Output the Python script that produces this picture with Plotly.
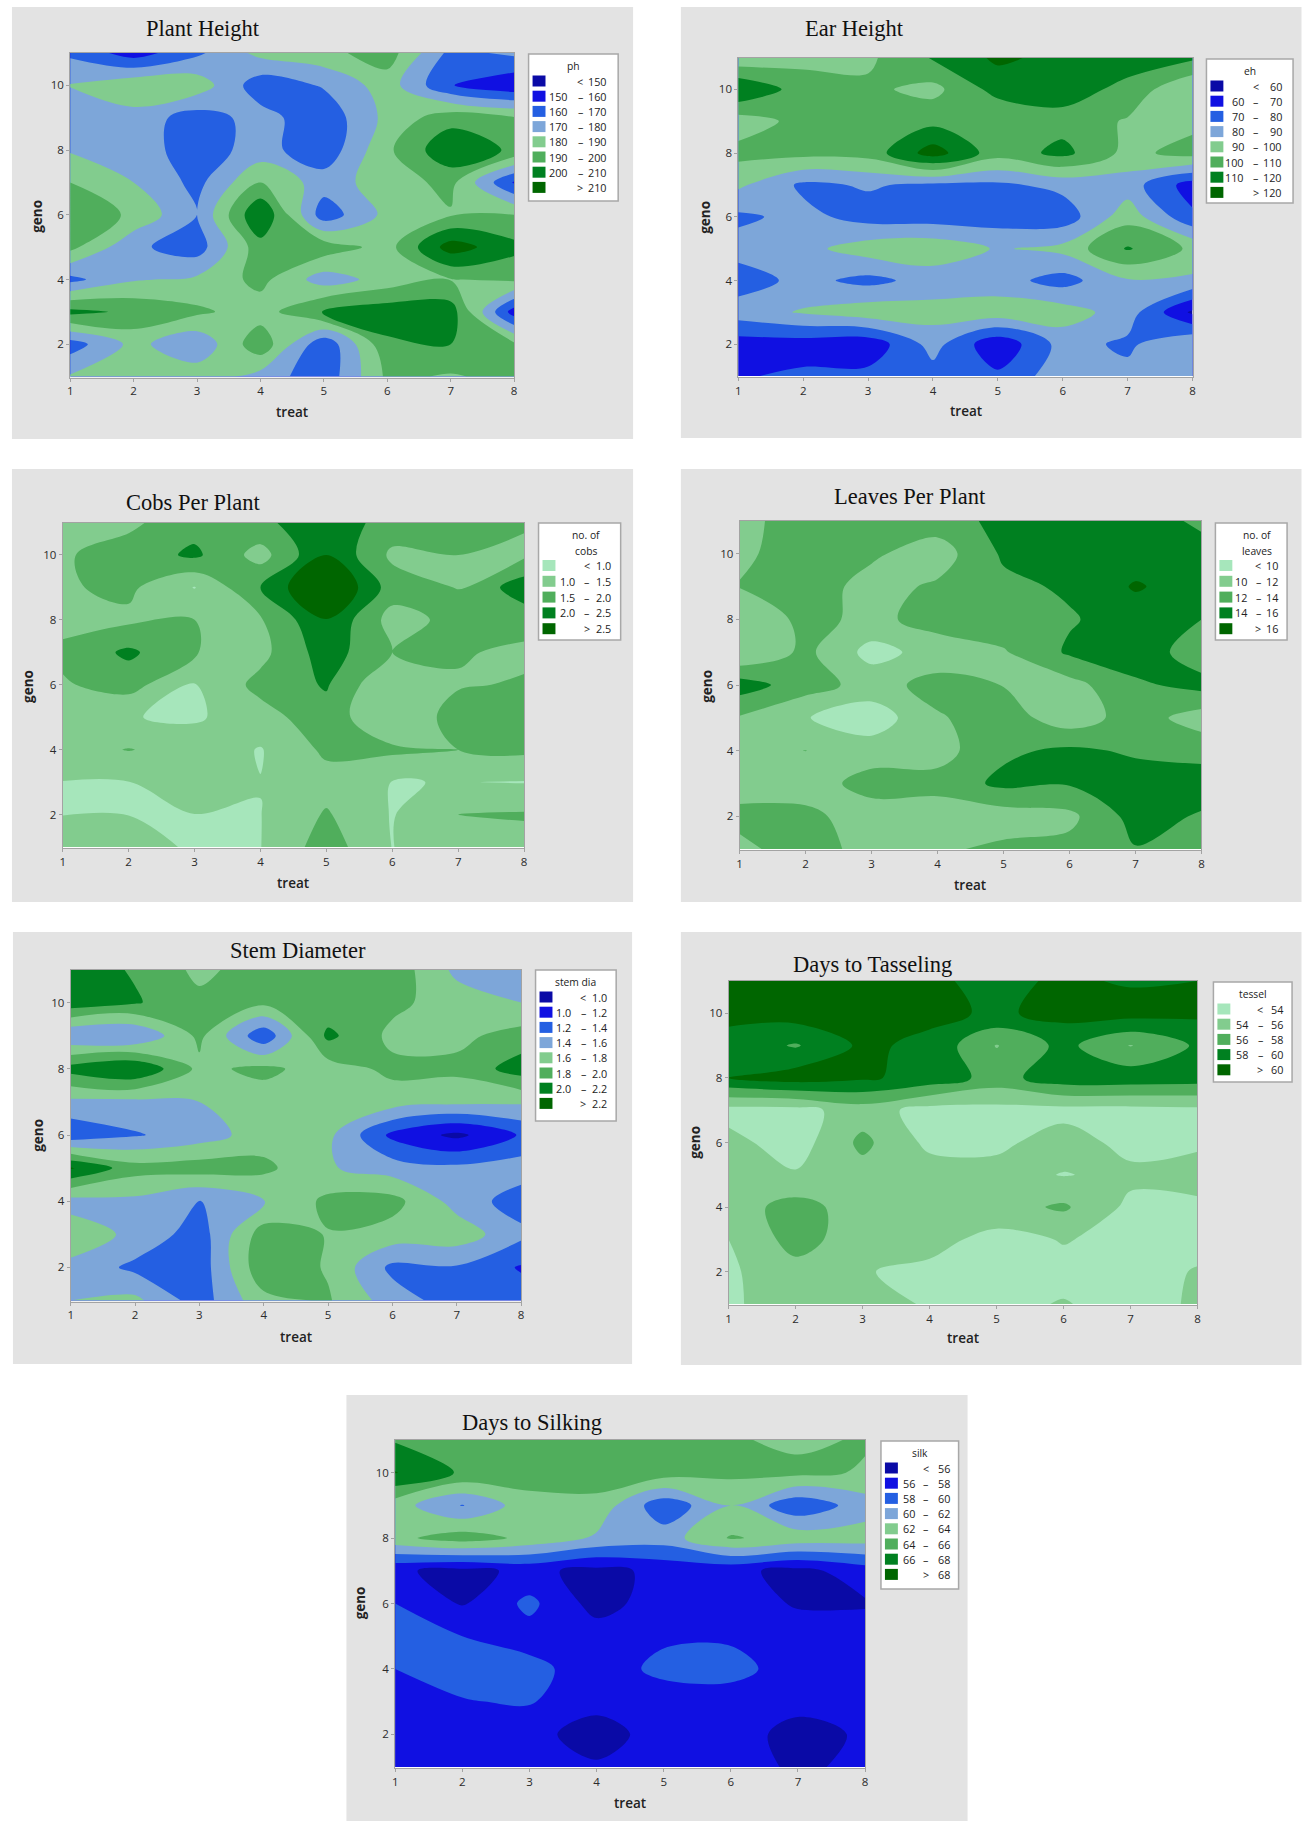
import plotly.graph_objects as go

W, H = 1308, 1821
treat = [1, 2, 3, 4, 5, 6, 7, 8]
geno = [1, 2, 3, 4, 5, 6, 7, 8, 9, 10, 11]

# each table: one row per geno 1..11, one column per treat 1..8
ph = [
    [181, 185, 186, 176, 163, 192, 189, 193],
    [165, 183, 172, 197, 162, 198, 200, 192],
    [203, 198, 192, 185, 202, 206, 205, 155],
    [167, 179, 182, 193, 175, 184, 189.5, 192],
    [193, 172, 165, 196, 196, 186, 215, 203],
    [198, 188, 170, 210, 164, 183, 189, 190],
    [190, 180, 167, 190, 175, 185, 193, 159],
    [179, 175, 165, 174, 163, 188, 208, 198],
    [172, 176, 165, 174, 163, 183, 196, 191],
    [180.5, 188, 186, 164, 171, 185, 160.5, 152],
    [168, 155, 168, 183, 187, 195, 167, 172],
]
eh = [
    [69, 72, 73, 76, 72, 86, 83, 85],
    [65, 65, 63, 84, 62, 84, 78, 90],
    [85, 91, 96, 94, 96, 95, 85, 58],
    [75, 83, 77, 84, 84, 76, 89, 88],
    [84, 87, 95, 97, 89, 93, 111, 98],
    [78, 83, 76, 75, 75, 74, 96, 72],
    [92, 78, 81, 78, 78, 83, 85, 65],
    [103, 103, 104, 125, 104, 113, 97, 104],
    [95, 103, 100, 107, 100, 106, 99, 97],
    [120, 105, 102, 97, 114, 115, 107, 90],
    [92, 97, 98, 111, 122, 117, 115, 112],
]
cobs = [
    [1.3, 1.3, 0.9, 0.99, 1.75, 0.99, 1.3, 1.3],
    [0.99, 0.99, 0.99, 0.99, 1.55, 0.97, 1.5, 1.55],
    [0.99, 0.99, 1.5, 1.01, 1.3, 0.99, 1.01, 0.98],
    [1.3, 1.52, 1.3, 0.97, 1.6, 1.6, 1.5, 1.6],
    [1.2, 1.02, 0.93, 1.3, 1.8, 0.98, 1.75, 1.9],
    [1.45, 1.7, 0.98, 1.65, 2.05, 0.98, 1.45, 1.55],
    [1.6, 2.1, 1.52, 1.35, 2.25, 1.5, 1.55, 1.4],
    [1.35, 1.4, 1.5, 1.45, 2.48, 1.3, 1.65, 1.7],
    [1.45, 1.6, 0.98, 2.0, 3.2, 1.75, 1.48, 2.3],
    [1.45, 1.7, 2.1, 1.3, 2.5, 1.4, 1.5, 1.4],
    [1.3, 1.4, 1.8, 1.9, 2.3, 1.8, 1.8, 1.55],
]
leaves = [
    [11.5, 13, 11.2, 11.7, 12.4, 12.6, 13.9, 13],
    [12.6, 12.5, 11, 10.9, 11, 11.5, 14.8, 13.8],
    [11, 11, 12.8, 12.7, 14.5, 14.2, 15, 15],
    [11.5, 12.02, 11, 11.2, 13.6, 14.4, 13.7, 13.3],
    [11.8, 10.1, 8.8, 11.8, 13, 10.8, 13, 11],
    [15, 12.9, 11.2, 12.7, 11.95, 11.3, 13.6, 14.7],
    [9.9, 12.5, 9.3, 10.8, 11.8, 14.3, 15.3, 12.8],
    [9.9, 12.7, 11.4, 12.9, 13.3, 13.8, 15, 14],
    [12.1, 13, 11.3, 12.3, 13.5, 14.3, 16.2, 15],
    [11.6, 13, 12.3, 11, 14.3, 15, 15, 14.6],
    [11.5, 12.8, 13, 13, 14.6, 15, 14.8, 13.7],
]
stem = [
    [1.6, 1.65, 1.3, 1.74, 1.82, 1.5, 1.3, 1.3],
    [1.55, 1.35, 1.28, 1.95, 1.78, 1.35, 1.38, 1.18],
    [1.72, 1.55, 1.3, 1.9, 1.79, 1.72, 1.72, 1.45],
    [1.52, 1.55, 1.38, 1.58, 1.85, 1.87, 1.52, 1.3],
    [2.22, 1.88, 1.9, 1.85, 1.62, 1.5, 1.45, 1.5],
    [1.25, 1.38, 1.5, 1.7, 1.65, 1.15, 0.95, 1.22],
    [1.55, 1.55, 1.6, 1.7, 1.72, 1.7, 1.65, 1.63],
    [2.08, 2.2, 1.75, 1.85, 1.7, 1.85, 1.85, 2.1],
    [1.41, 1.39, 1.85, 1.25, 2.05, 1.75, 1.75, 1.88],
    [2.12, 2.02, 1.85, 1.85, 1.85, 1.85, 1.7, 1.6],
    [2.1, 1.98, 1.75, 1.9, 1.85, 1.93, 1.55, 1.45],
]
tessel = [
    [53.7, 55, 54.8, 53.8, 53.6, 54.1, 53.4, 54.2],
    [53.7, 55.3, 54.1, 53.6, 53.5, 53.5, 53.4, 54.1],
    [54, 56.8, 54.9, 54.6, 53.4, 54.1, 53.5, 53.5],
    [55, 56.8, 55, 55.4, 55.2, 56.3, 53.5, 53.5],
    [55, 54.2, 55.2, 55, 54.8, 53.9, 54.5, 55],
    [54.6, 53, 56.5, 53.5, 53.5, 55, 53.3, 53.6],
    [53.3, 53.3, 55, 53.2, 53.3, 53.3, 53.3, 53.5],
    [60, 61, 60.3, 59.3, 57.2, 59.2, 59.2, 59],
    [59.3, 57.8, 60.4, 59.5, 55.9, 58.6, 55.9, 58.3],
    [60.5, 61, 61, 60.5, 59.7, 60.6, 60.8, 60.4],
    [60.3, 60.3, 60.3, 60.3, 59.5, 60.3, 59.8, 60],
]
silk = [
    [57, 57, 56.7, 56.2, 57, 56.8, 55.7, 56.4],
    [57, 57, 56.5, 55.3, 56.7, 57, 55.2, 56.3],
    [57.5, 57.9, 58.2, 56.5, 57, 57, 56.7, 57],
    [58, 58.7, 58.6, 57, 58.5, 58.7, 57, 57],
    [59, 58, 57.2, 57, 57.7, 57.7, 57, 57],
    [58, 55.8, 58.5, 55.2, 57, 57, 55.8, 55.8],
    [56.3, 55.4, 56.5, 55.4, 56.5, 56.5, 55.4, 57],
    [63.5, 65, 63.5, 61.7, 61, 64.2, 63.2, 63],
    [62.9, 59.9, 63.2, 63.4, 58.6, 62, 58.5, 61],
    [68.1, 65.7, 65, 65, 65, 64.5, 64.5, 63.8],
    [65.8, 65, 65.2, 65, 64.5, 64.2, 63.6, 64.2],
]

ph_levels = [150, 160, 170, 180, 190, 200, 210]
eh_levels = [60, 70, 80, 90, 100, 110, 120]
cobs_levels = [1.0, 1.5, 2.0, 2.5]
leaves_levels = [10, 12, 14, 16]
stem_levels = [1.0, 1.2, 1.4, 1.6, 1.8, 2.0, 2.2]
tessel_levels = [54, 56, 58, 60]
silk_levels = [56, 58, 60, 62, 64, 66, 68]

BLUEGREEN = ["#0a0aa6", "#1010e2", "#245fe2", "#7da6d9", "#82cc8e", "#50ae5c", "#008020", "#006600"]
GREENS = ["#a6e6bb", "#82cc8e", "#50ae5c", "#008020", "#006600"]

panels = [
    dict(title="Plant Height", legend=["ph"], z=ph, levels=ph_levels, colors=BLUEGREEN, fmt="{:.0f}",
         grey=(9, 7, 633, 439), plot=(67.5, 53, 513.5, 377.5), box=(528, 54, 618, 201), cols=(48, 38, 9),
         title_xy=(201, 29), treat_xy=(290, 412), geno_xy=(34, 216)),
    dict(title="Ear Height", legend=["eh"], z=eh, levels=eh_levels, colors=BLUEGREEN, fmt="{:.0f}",
         grey=(681, 7, 1304.5, 438), plot=(738.7, 57.5, 1195, 377), box=(1209, 59, 1296, 203), cols=(47.5, 37.5, 9),
         title_xy=(855, 28), treat_xy=(967, 411), geno_xy=(705, 217)),
    dict(title="Cobs Per Plant", legend=["no. of", "cobs"], z=cobs, levels=cobs_levels, colors=GREENS, fmt="{:.1f}",
         grey=(9, 469, 633, 902), plot=(60, 522.5, 523.5, 848), box=(538, 523, 620.5, 640), cols=(44, 34, 8),
         title_xy=(191, 502), treat_xy=(291, 883), geno_xy=(25, 686)),
    dict(title="Leaves Per Plant", legend=["no. of", "leaves"], z=leaves, levels=leaves_levels, colors=GREENS, fmt="{:.0f}",
         grey=(681, 469, 1304.5, 902), plot=(740, 521, 1204, 850), box=(1218, 523, 1290, 640), cols=(38, 29, 7.5),
         title_xy=(911, 496), treat_xy=(971, 885), geno_xy=(707, 686)),
    dict(title="Stem Diameter", legend=["stem dia"], z=stem, levels=stem_levels, colors=BLUEGREEN, fmt="{:.1f}",
         grey=(10, 932, 632, 1364), plot=(68, 969.5, 520.5, 1301.5), box=(535, 970, 616, 1121), cols=(43, 33, 7),
         title_xy=(296, 951), treat_xy=(294, 1337), geno_xy=(35, 1135)),
    dict(title="Days to Tasseling", legend=["tessel"], z=tessel, levels=tessel_levels, colors=GREENS, fmt="{:.0f}",
         grey=(681, 932, 1304.5, 1365), plot=(729, 981, 1200, 1305), box=(1216, 982, 1295, 1082), cols=(42, 32, 7.5),
         title_xy=(874, 964), treat_xy=(964, 1338), geno_xy=(695, 1142)),
    dict(title="Days to Silking", legend=["silk"], z=silk, levels=silk_levels, colors=BLUEGREEN, fmt="{:.0f}",
         grey=(345, 1395, 969, 1821), plot=(394, 1440, 866, 1768), box=(882, 1441, 960, 1589), cols=(42, 33, 7),
         title_xy=(531, 1422), treat_xy=(630, 1803), geno_xy=(359, 1603)),
]

def px(x):
    return x / W

def py(y):
    return 1 - y / H

TXT = "Open Sans"
TICK = "#2b2b2b"
AXLINE = "#a3a3a3"
fig = go.Figure()
shapes, notes, layout = [], [], {}

def rect(x0, y0, x1, y1, fill, line=None, lw=0, layer="below"):
    shapes.append(dict(type="rect", xref="paper", yref="paper", layer=layer,
                       x0=px(x0), x1=px(x1), y0=py(y1), y1=py(y0), fillcolor=fill,
                       line=dict(color=line or fill, width=lw)))

def text(x, y, s, size=10.8, color="#222222", anchor="center", family=TXT, angle=0, weight=None):
    notes.append(dict(xref="paper", yref="paper", x=px(x), y=py(y), text=s, showarrow=False,
                      xanchor=anchor, yanchor="middle", textangle=angle,
                      font=dict(size=size, color=color, family=family, weight=weight)))

for i, p in enumerate(panels, start=1):
    gx0, gy0, gx1, gy1 = p["grey"]
    x0, y0, x1, y1 = p["plot"]
    rect(gx0, gy0, gx1, gy1, "#e3e3e3")
    rect(x0, y0, x1, y1, "#ffffff")
    lv = p["levels"]
    n = len(p["colors"]) - 1
    fig.add_trace(go.Contour(
        x=treat, y=geno, z=p["z"], xaxis=f"x{i}", yaxis=f"y{i}",
        autocontour=False,
        contours=dict(start=lv[0], end=lv[-1], size=lv[1] - lv[0], coloring="fill", showlines=False),
        line=dict(width=0, smoothing=1.0),
        colorscale=[[k / n, c] for k, c in enumerate(p["colors"])],
        showscale=False, hoverinfo="skip",
    ))
    axis = dict(showgrid=False, zeroline=False, showline=True, linecolor=AXLINE, linewidth=1,
                mirror=True, ticks="outside", ticklen=3, tickcolor=AXLINE, tickwidth=1,
                tickfont=dict(size=11.5, color=TICK, family=TXT))
    layout[f"xaxis{i}"] = dict(axis, domain=[px(x0), px(x1)], range=[1, 8], tickmode="array",
                               tickvals=treat, anchor=f"y{i}")
    layout[f"yaxis{i}"] = dict(axis, domain=[py(y1), py(y0)], range=[0.97, 11], tickmode="array",
                               tickvals=[2, 4, 6, 8, 10], anchor=f"x{i}")
    # title and axis names
    tx, ty = p["title_xy"]
    text(tx, ty, p["title"], size=22.5, color="#111111", family="Liberation Serif")
    ax, ay = p["treat_xy"]
    text(ax, ay, "treat", size=13.5, color="#222222", weight=600)
    bx, by = p["geno_xy"]
    text(bx, by, "geno", size=13.5, color="#222222", angle=-90, weight=700)
    # legend box
    lx0, ly0, lx1, ly1 = p["box"]
    rect(lx0, ly0, lx1, ly1, "#ffffff", line="#a8a8a8", lw=1.5, layer="above")
    lines = p["legend"]
    cx = (lx0 + lx1) / 2 + (6 if len(lines) == 2 else 0)
    for k, t in enumerate(lines):
        text(cx, ly0 + 12 + k * 16, t, size=10.3)
    row0 = ly0 + (27 if len(lines) == 1 else 42.5)
    step = 15.2 if len(lines) == 1 else 15.8
    f = p["fmt"]
    c_lo, c_dash, c_hi = p["cols"]
    for k, c in enumerate(p["colors"]):
        yc = row0 + k * step
        rect(lx0 + 4, yc - 5.5, lx0 + 17, yc + 5.5, c, layer="above")
        if k == 0:
            text(lx1 - c_dash, yc, "&lt;")
            text(lx1 - c_hi, yc, f.format(lv[0]), anchor="right")
        elif k == n:
            text(lx1 - c_dash, yc, "&gt;")
            text(lx1 - c_hi, yc, f.format(lv[-1]), anchor="right")
        else:
            text(lx1 - c_lo, yc, f.format(lv[k - 1]), anchor="right")
            text(lx1 - c_dash, yc, "–")
            text(lx1 - c_hi, yc, f.format(lv[k]), anchor="right")

fig.update_layout(width=W, height=H, margin=dict(l=0, r=0, t=0, b=0), autosize=False,
                  paper_bgcolor="#ffffff", plot_bgcolor="rgba(0,0,0,0)", showlegend=False,
                  shapes=shapes, annotations=notes, **layout)
fig.write_html("out.html", post_script="document.body.style.margin='0';document.documentElement.style.overflow='hidden';",
               config=dict(displayModeBar=False))
